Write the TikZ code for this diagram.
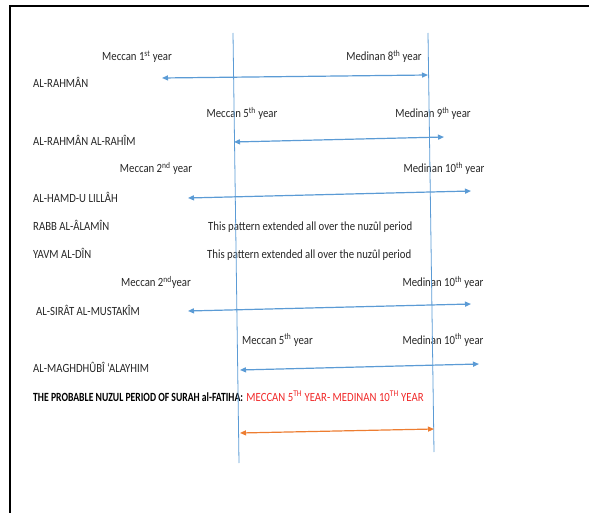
\documentclass[tikz,border=0pt]{standalone}
\usepackage{fontspec}
\setmainfont{Carlito}[FakeStretch=0.86]
\usetikzlibrary{arrows.meta,positioning}
\definecolor{myblue}{RGB}{91,155,213}
\definecolor{myorange}{RGB}{237,125,49}
\definecolor{myred}{RGB}{240,40,40}
\definecolor{mygray}{RGB}{38,38,38}

\begin{document}
\begin{tikzpicture}[
  x=1pt, y=-1pt,
  >={Triangle[length=6pt,width=5pt]},
  mylabel/.style={
    anchor=base west,
    inner sep=0pt,
    text=mygray,
    font=\fontsize{12.5}{14}\selectfont
    },
  myyear/.style={
    mylabel,
    anchor=base
    },
  myarrow/.style={<->, draw=#1, line width=1.2pt},
  myline/.style={draw=myblue, line width=0.8pt}
]
\useasboundingbox (0,0) rectangle (589,513);

% frame
\coordinate (frtr) at (589,6);
\coordinate (frtl) at (10,6);
\coordinate (frbl) at (10,513);
\draw[line width=2pt] (frtr) -- (frtl) -- (frbl);

% left column
\node[mylabel] (rahman) at (33,87.5) {AL-RAHMÂN};
\node[mylabel] (rahim) at (33,145.5) {AL-RAHMÂN AL-RAHÎM};
\node[mylabel] (hamd) at (33,202.5) {AL-HAMD-U LILLÂH};
\node[mylabel] (rabb) at (33,230.5) {RABB AL-ÂLAMÎN};
\node[mylabel] (yavm) at (33,258.5) {YAVM AL-DÎN};
\node[mylabel] (sirat) at (36,315.5) {AL-SIRÂT AL-MUSTAKÎM};
\node[mylabel] (maghd) at (33,372.5) {AL-MAGHDHÛBÎ ‘ALAYHIM};

% years
\node[myyear] (mec1) at (137,61) {Meccan 1\textsuperscript{st} year};
\node[myyear] (med8) at (384,61) {Medinan 8\textsuperscript{th} year};
\node[myyear] (mec5a) at (242,118) {Meccan 5\textsuperscript{th} year};
\node[myyear] (med9) at (433,118) {Medinan 9\textsuperscript{th} year};
\node[myyear] (mec2a) at (156,173) {Meccan 2\textsuperscript{nd} year};
\node[myyear] (med10a) at (444,173) {Medinan 10\textsuperscript{th} year};
\node[mylabel] (patt1) at (208,230.5) {This pattern extended all over the nuzûl period};
\node[mylabel] (patt2) at (207,258.5) {This pattern extended all over the nuzûl period};
\node[myyear] (mec2b) at (156,287) {Meccan 2\textsuperscript{nd}year};
\node[myyear] (med10b) at (443,287) {Medinan 10\textsuperscript{th} year};
\node[mylabel] (mec5b) at (242,344) {Meccan 5\textsuperscript{th} year};
\node[myyear] (med10c) at (443,344) {Medinan 10\textsuperscript{th} year};

% conclusion
\node[mylabel, text=black, font=\fontsize{12.5}{14}\bfseries] (period) at (33,401)
  {\scalebox{0.9}[1]{THE PROBABLE NUZUL PERIOD OF SURAH al-FATIHA:}};
\node[mylabel, text=myred, anchor=base west] (nuzul) at ([xshift=3pt]period.base east)
  {MECCAN 5\textsuperscript{TH} YEAR- MEDINAN 10\textsuperscript{TH} YEAR};

% vertical lines
\coordinate (v1t) at (233,33);
\coordinate (v1b) at (239,463);
\coordinate (v2t) at (428,33);
\coordinate (v2b) at (434,452);
\draw[myline] (v1t) -- (v1b);
\draw[myline] (v2t) -- (v2b);

% arrows
\coordinate (a1l) at (162,78);  \coordinate (a1r) at (428,75);
\coordinate (a2l) at (234,142); \coordinate (a2r) at (444,137);
\coordinate (a3l) at (188,198); \coordinate (a3r) at (471,191);
\coordinate (a4l) at (188,311); \coordinate (a4r) at (471,304);
\coordinate (a5l) at (240,370); \coordinate (a5r) at (479,364);
\coordinate (a6l) at (240,433); \coordinate (a6r) at (434,429);
\draw[myarrow=myblue] (a1l) -- (a1r);
\draw[myarrow=myblue] (a2l) -- (a2r);
\draw[myarrow=myblue] (a3l) -- (a3r);
\draw[myarrow=myblue] (a4l) -- (a4r);
\draw[myarrow=myblue] (a5l) -- (a5r);
\draw[myarrow=myorange] (a6l) -- (a6r);

\end{tikzpicture}
\end{document}
